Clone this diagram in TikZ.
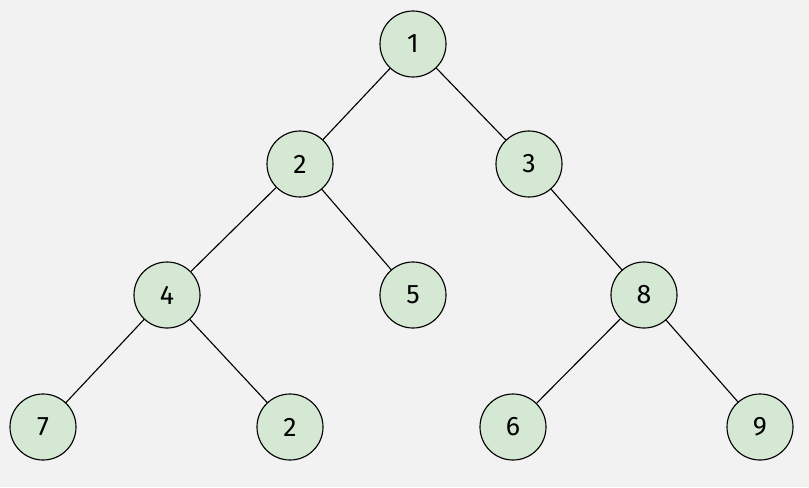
\documentclass[tikz,border=0pt]{standalone}
\usepackage{fontspec}
\setmainfont{Fira Sans}
\usepackage{tikz}
\usetikzlibrary{positioning}
\definecolor{bgGray}{HTML}{F2F2F2}
\definecolor{leafGreen}{HTML}{D5E8D4}

\begin{document}
\begin{tikzpicture}[
    x=0.025cm, y=-0.025cm,
    vert/.style={circle, draw, thick, fill=leafGreen, minimum size=1.65cm,
                 inner sep=0pt, font=\fontsize{19}{22}\selectfont},
    edge/.style={thick},
  ]

  % background
  \fill[bgGray] (0,0) rectangle (809,487);
  \useasboundingbox (0,0) rectangle (809,487);

  % vertices
  \node[vert] (n1) at (413, 44) {1};
  \node[vert] (n2) at (300,164) {2};
  \node[vert] (n3) at (529,164) {3};
  \node[vert] (n4) at (167,295) {4};
  \node[vert] (n5) at (413,295) {5};
  \node[vert] (n8) at (644,295) {8};
  \node[vert] (n7) at ( 43,427) {7};
  \node[vert] (n2b) at (290,427) {2};
  \node[vert] (n6) at (513,427) {6};
  \node[vert] (n9) at (760,427) {9};

  % edges
  \draw[edge] (n1) -- (n2);
  \draw[edge] (n1) -- (n3);
  \draw[edge] (n2) -- (n4);
  \draw[edge] (n2) -- (n5);
  \draw[edge] (n3) -- (n8);
  \draw[edge] (n4) -- (n7);
  \draw[edge] (n4) -- (n2b);
  \draw[edge] (n8) -- (n6);
  \draw[edge] (n8) -- (n9);

\end{tikzpicture}
\end{document}
